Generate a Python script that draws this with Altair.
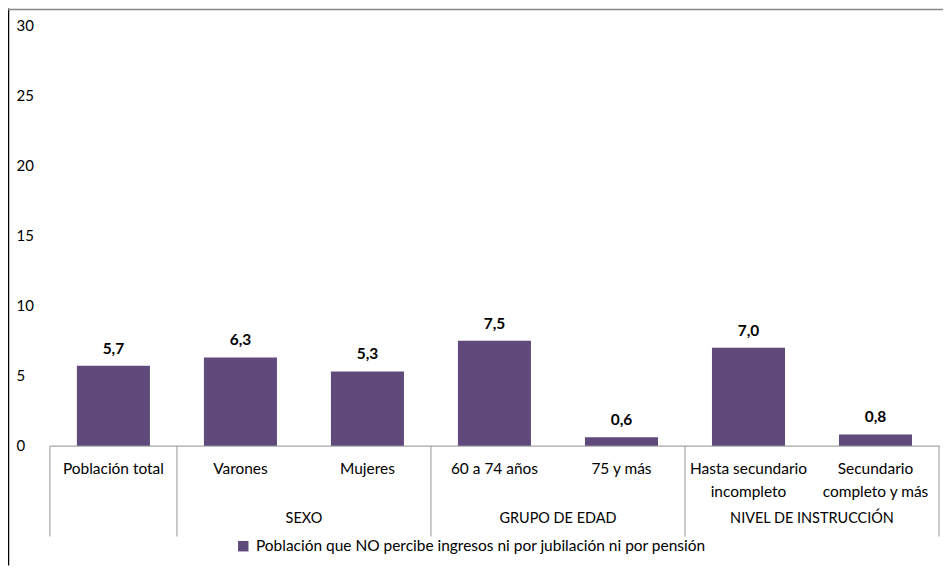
import altair as alt
import pandas as pd

categories = ["Población total", "Varones", "Mujeres", "60 a 74 años", "75 y más",
              "Hasta secundario incompleto", "Secundario completo y más"]
cat_labels = ["Población total", "Varones", "Mujeres", "60 a 74 años", "75 y más",
              "Hasta secundario\nincompleto", "Secundario\ncompleto y más"]
values = [5.7, 6.3, 5.3, 7.5, 0.6, 7.0, 0.8]
groups = ["", "SEXO", "SEXO", "GRUPO DE EDAD", "GRUPO DE EDAD",
          "NIVEL DE INSTRUCCIÓN", "NIVEL DE INSTRUCCIÓN"]
group_names = ["SEXO", "GRUPO DE EDAD", "NIVEL DE INSTRUCCIÓN"]
group_center_cat = ["Mujeres", "75 y más", "Secundario completo y más"]
separator_cats = ["Población total", "Varones", "60 a 74 años", "Hasta secundario incompleto"]
series_name = "Población que NO percibe ingresos ni por jubilación ni por pensión"
y_ticks = [0, 5, 10, 15, 20, 25, 30]

FONT = "Lato"
W, H = 891, 421

df = pd.DataFrame({
    "cat": categories,
    "lab": cat_labels,
    "val": values,
    "grp": groups,
    "txt": [f"{v:.1f}".replace(".", ",") for v in values],
    "serie": [series_name] * len(values),
})
df_grp = pd.DataFrame({"grp": group_names, "cat": group_center_cat})
df_sep = pd.DataFrame({"cat": separator_cats})
df_end = pd.DataFrame({"cat": [categories[-1]]})

xscale = alt.Scale(domain=categories, paddingInner=0, paddingOuter=0)

base = alt.Chart(df)

bars = base.mark_bar(width=alt.RelativeBandSize(0.575)).encode(
    x=alt.X("cat:N", scale=xscale, sort=categories,
            axis=alt.Axis(labels=False, ticks=False, title=None, domain=True,
                          domainColor="#a6a6a6", domainWidth=1.2)),
    y=alt.Y("val:Q", scale=alt.Scale(domain=[0, 30], nice=False),
            axis=alt.Axis(values=y_ticks, grid=False, domain=False, ticks=False,
                          tickSize=0, labelAlign="left", labelPadding=34,
                          labelFont=FONT, labelFontSize=15, labelColor="#000000",
                          title=None)),
    color=alt.Color("serie:N", scale=alt.Scale(range=["#604A7B"]),
                    legend=alt.Legend(orient="none", legendX=186, legendY=514,
                                      title=None, symbolType="square", symbolSize=110,
                                      symbolStrokeWidth=0, labelFont=FONT,
                                      labelFontSize=15.5, labelColor="#000000",
                                      labelLimit=0, padding=0, labelOffset=5)),
)

value_labels = base.mark_text(baseline="bottom", dy=-9, fontWeight="bold",
                              font=FONT, fontSize=15.5, color="#000000").encode(
    x=alt.X("cat:N", scale=xscale, sort=categories),
    y=alt.Y("val:Q"),
    text="txt:N",
)

cat_text = base.mark_text(baseline="top", align="center", font=FONT, fontSize=15.5,
                          color="#000000", lineBreak="\n", lineHeight=23).encode(
    x=alt.X("cat:N", scale=xscale, sort=categories),
    y=alt.value(H + 16),
    text="lab:N",
)

grp_text = alt.Chart(df_grp).mark_text(baseline="middle", align="center", font=FONT,
                                       fontSize=14.5, color="#000000").encode(
    x=alt.X("cat:N", scale=xscale, sort=categories, bandPosition=0),
    y=alt.value(H + 74),
    text="grp:N",
)

sep = alt.Chart(df_sep).mark_rule(color="#a6a6a6", strokeWidth=1.2).encode(
    x=alt.X("cat:N", scale=xscale, sort=categories, bandPosition=0),
    y=alt.value(H),
    y2=alt.value(H + 91),
)
sep_end = alt.Chart(df_end).mark_rule(color="#a6a6a6", strokeWidth=1.2).encode(
    x=alt.X("cat:N", scale=xscale, sort=categories, bandPosition=1),
    y=alt.value(H),
    y2=alt.value(H + 91),
)

border_left = alt.Chart(df_end).mark_rule(color="#000000", strokeWidth=1.5).encode(
    x=alt.value(-41.5), y=alt.value(-17), y2=alt.value(H + 120),
)
border_top = alt.Chart(df_end).mark_rule(color="#888888", strokeWidth=1.5).encode(
    x=alt.value(-42), x2=alt.value(W + 4), y=alt.value(-16),
)

chart = alt.layer(border_left, border_top, bars, value_labels, cat_text, grp_text,
                  sep, sep_end).properties(
    width=W, height=H,
    autosize=alt.AutoSizeParams(type="none"),
    padding={"left": 42, "top": 17, "right": 4, "bottom": 120},
    background="#ffffff",
).configure_view(stroke=None)

chart.save("out.html", embed_options={"renderer": "svg", "actions": False})
